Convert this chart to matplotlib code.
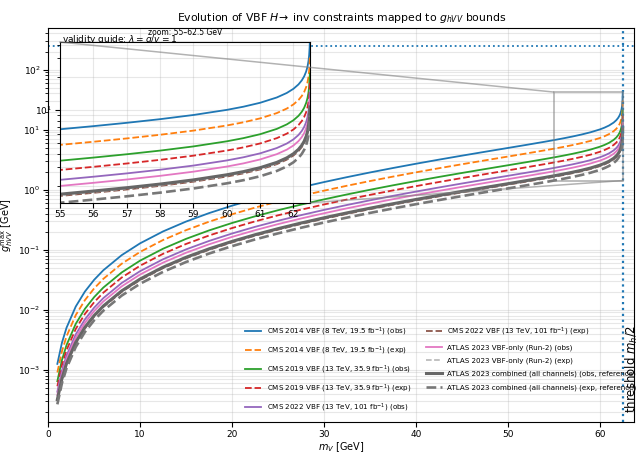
import numpy as np
import matplotlib.pyplot as plt
from matplotlib.patches import ConnectionPatch

# Higgs / SM inputs
m_h = 125.0          # GeV
gamma_sm = 0.0041    # GeV, SM Higgs width
vev = 246.0          # GeV

# dark vector masses sampled (GeV)
m_V = np.array([1, 1.5, 2, 3, 4, 5, 6, 8, 10, 12.5, 15, 17.5, 20, 22.5, 25, 27.5,
                30, 32.5, 35, 37.5, 40, 42.5, 45, 47.5, 50, 52, 54, 55, 56, 57, 58,
                59, 60, 60.5, 61, 61.5, 61.8, 62, 62.15, 62.25, 62.32, 62.38, 62.42,
                62.45, 62.47, 62.485, 62.49])

# upper limits on BR(H -> inv) from VBF analyses
labels = [
    'CMS 2014 VBF (8 TeV, 19.5 fb$^{-1}$) (obs)',
    'CMS 2014 VBF (8 TeV, 19.5 fb$^{-1}$) (exp)',
    'CMS 2019 VBF (13 TeV, 35.9 fb$^{-1}$) (obs)',
    'CMS 2019 VBF (13 TeV, 35.9 fb$^{-1}$) (exp)',
    'CMS 2022 VBF (13 TeV, 101 fb$^{-1}$) (obs)',
    'CMS 2022 VBF (13 TeV, 101 fb$^{-1}$) (exp)',
    'ATLAS 2023 VBF-only (Run-2) (obs)',
    'ATLAS 2023 VBF-only (Run-2) (exp)',
    'ATLAS 2023 combined (all channels) (obs, reference)',
    'ATLAS 2023 combined (all channels) (exp, reference)',
]
br_limits = [0.65, 0.49, 0.33, 0.25, 0.18, 0.10, 0.145, 0.103, 0.107, 0.077]

colors = ['tab:blue', 'tab:orange', 'tab:green', 'tab:red', 'tab:purple',
          'tab:brown', 'tab:pink', '#b0b0b0', '#666666', '#777777']
styles = ['-', '--', '-', '--', '-', '--', '-', '--', '-', '--']
widths = [1.3, 1.3, 1.3, 1.3, 1.3, 1.3, 1.3, 1.1, 2.2, 1.9]


def g_max(br):
    # invert Gamma(h->VV) = g^2 m_h^3 / (128 pi m_V^4) * beta * (1 - 4x + 12x^2)
    x = m_V**2 / m_h**2
    beta = np.sqrt(1 - 4 * x)
    poly = 1 - 4 * x + 12 * x**2
    gamma_inv = br / (1 - br) * gamma_sm
    return np.sqrt(gamma_inv * 128 * np.pi * m_V**4 / (m_h**3 * beta * poly))


curves = [g_max(b) for b in br_limits]

fig = plt.figure(figsize=(6.42, 4.55), dpi=100)
ax = fig.add_axes([0.075, 0.072, 0.913, 0.866])

for g, lab, c, ls, lw in zip(curves, labels, colors, styles, widths):
    ax.plot(m_V, g, color=c, linestyle=ls, linewidth=lw, label=lab)

ax.set_yscale('log')
ax.axhline(vev, color='tab:blue', linestyle=':', linewidth=1.3)
ax.text(1.5, vev, r'validity guide: $\lambda = g/v = 1$', fontsize=6.5, va='bottom')
ax.axvline(m_h / 2, color='tab:blue', linestyle=':', linewidth=1.6)
ax.text(m_h / 2 + 0.1, 1.9e-4, 'threshold $m_h/2$', rotation=90, fontsize=8.5,
        ha='left', va='bottom')
ax.set_xlim(0, 63.75)

ax.set_title(r'Evolution of VBF $H\!\rightarrow$ inv constraints mapped to $g_{hVV}$ bounds',
             fontsize=7.8, pad=5)
ax.set_xlabel('$m_V$ [GeV]', fontsize=7, labelpad=1)
ax.set_ylabel(r'$g^{\max}_{hVV}$ [GeV]', fontsize=7, labelpad=2)
ax.tick_params(labelsize=6.5, pad=2)
ax.grid(True, which='both', alpha=0.3)
ax.legend(loc='lower right', bbox_to_anchor=(1.015, 0.005), ncol=2, fontsize=5.1,
          frameon=False, labelspacing=0.95, columnspacing=2.0, handlelength=2.3)

# zoom inset near threshold
axins = ax.inset_axes([0.02, 0.557, 0.427, 0.408])
for g, c, ls, lw in zip(curves, colors, styles, widths):
    axins.plot(m_V, g, color=c, linestyle=ls, linewidth=lw)
axins.set_yscale('log')
axins.set_xlim(55, 62.5)
sel = m_V >= 55
lo = min(g[sel].min() for g in curves)
hi = max(g[sel].max() for g in curves)
axins.set_ylim(lo, hi)
axins.set_title('zoom: 55–62.5 GeV', fontsize=5.5, pad=5)
axins.tick_params(labelsize=6.5, pad=2)
axins.grid(True, which='both', alpha=0.3)

# zoom box and connectors
ax.indicate_inset([55, lo, 7.5, hi - lo], edgecolor='gray', alpha=0.6, linewidth=1.2)
for xy_main, xy_ins in [((55, hi), (0, 1)), ((62.5, lo), (1, 0))]:
    con = ConnectionPatch(xyA=xy_main, coordsA=ax.transData,
                          xyB=xy_ins, coordsB=axins.transAxes,
                          color='gray', alpha=0.6, linewidth=1.1)
    fig.add_artist(con)

plt.savefig('out.png', dpi=100)
